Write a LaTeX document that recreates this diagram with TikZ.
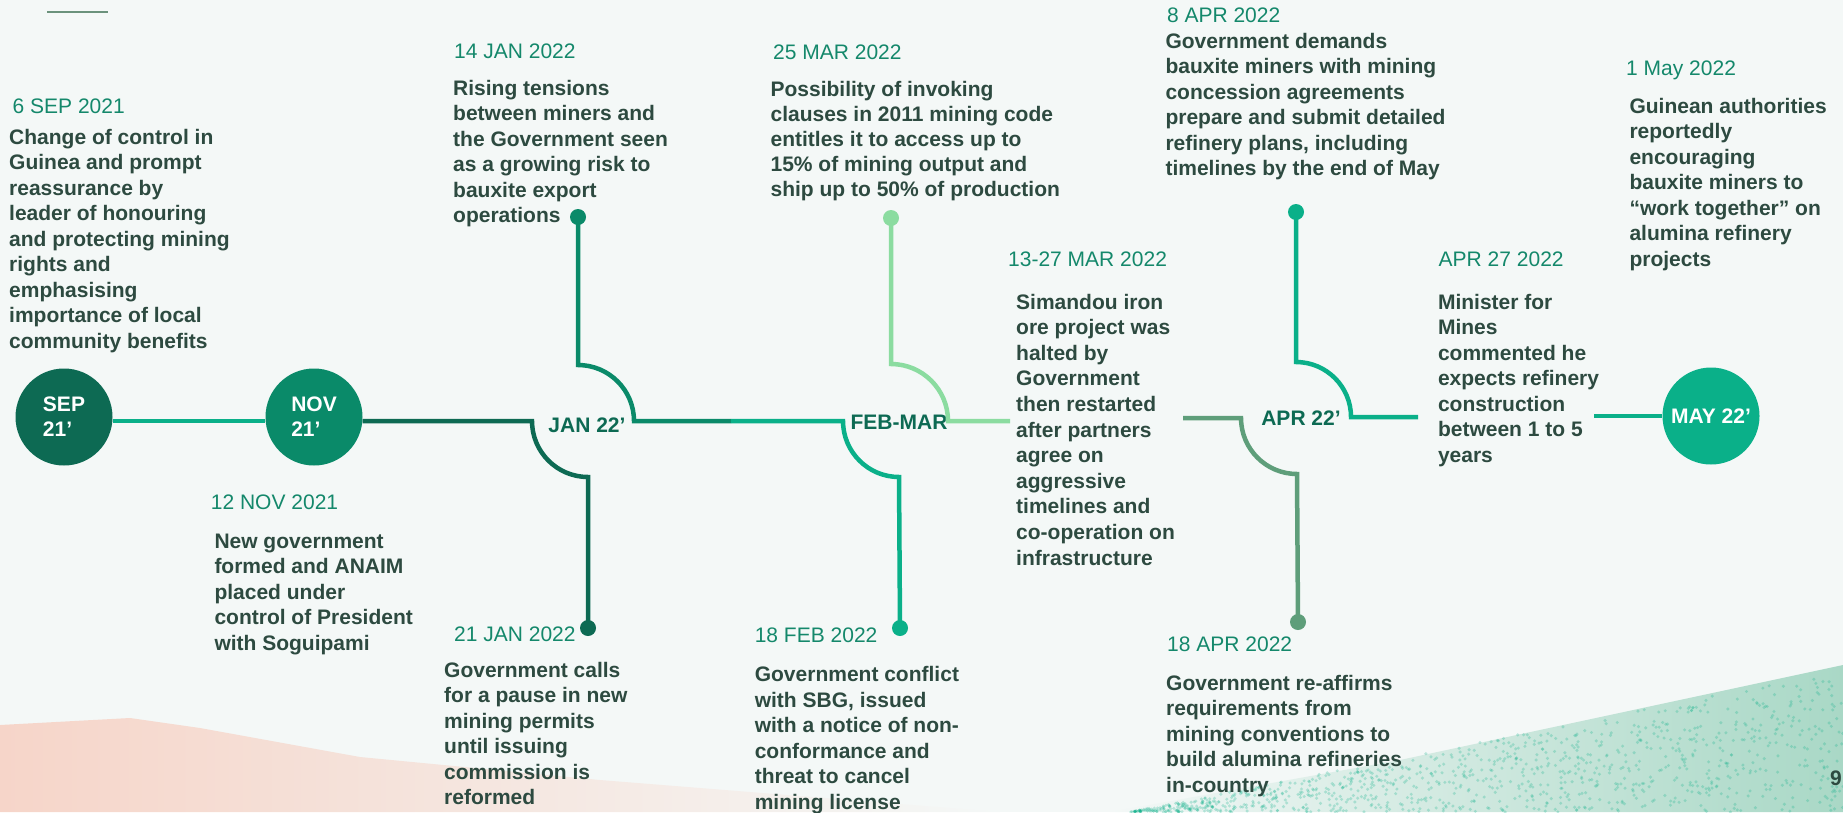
\documentclass[tikz,border=0pt]{standalone}
\usepackage{fontspec}
\setmainfont{Liberation Sans}
\definecolor{bg}{HTML}{F4F8F7}
\definecolor{cdark}{HTML}{0D6A53}
\definecolor{cmid}{HTML}{0A8A69}
\definecolor{cteal}{HTML}{0AB089}
\definecolor{clight}{HTML}{8BDCA0}
\definecolor{cgrey}{HTML}{5E9E7A}
\definecolor{cdate}{HTML}{14886B}
\definecolor{ctext}{HTML}{2D4A40}
\definecolor{cpink}{HTML}{F6D5C9}
\definecolor{cgpatch}{HTML}{A9D8C6}
\begin{document}
\begin{tikzpicture}[x=1pt,y=1pt,
  ln/.style={line width=4.5pt},
  datelbl/.style={font=\fontsize{21}{25.5}\selectfont, text=cdate, anchor=base west, inner sep=0pt},
  body/.style={font=\bfseries\fontsize{21}{25.5}\selectfont, text=ctext, align=left, anchor=base west, inner sep=0pt},
  hub/.style={font=\bfseries\fontsize{21}{25}\selectfont, text=cdark, inner sep=0pt},
  month/.style={circle, minimum size=97pt, inner sep=0pt, text=white, align=left, font=\bfseries\fontsize{21}{25}\selectfont},
  dotn/.style={circle, minimum size=16pt, inner sep=0pt}
]
\useasboundingbox (0,0) rectangle (1843,-812);
\fill[bg] (0,0) rectangle (1843,-812);
% pink blob bottom left
\shade[left color=cpink, right color=bg]
  (0,-725) -- (130,-718) -- (200,-728) -- (360,-757) -- (600,-780) -- (850,-800) -- (1000,-812) -- (0,-812) -- cycle;
% green textured patch bottom right
\shade[left color=bg, right color=cgpatch]
  (1110,-812) -- (1400,-760) -- (1843,-665) -- (1843,-812) -- cycle;
\pgfmathsetseed{42}
\foreach \i in {1,...,1100}{
  \pgfmathsetmacro{\px}{1130+rnd*713}
  \pgfmathsetmacro{\ptop}{812-(\px-1130)*0.2}
  \pgfmathsetmacro{\py}{\ptop+rnd*(812-\ptop)}
  \fill[cteal, opacity=0.25] (\px,-\py) circle (1.7pt);
}
% top-left short rule
\draw[line width=2.5pt, color=cgrey!60!gray] (47,-12) -- (108,-12);

% month circles
\node[month, fill=cdark] (sep) at (64,-417) {SEP\\21’};
\node[month, fill=cmid] (nov) at (314,-417) {NOV\\21’};
\node[month, fill=cteal] (may) at (1711,-416) {MAY 22’};

% hub labels
\node[hub] (jan) at (587,-425) {JAN 22’};
\node[hub] (febmar) at (899,-422) {FEB-MAR};
\node[hub] (apr) at (1301,-418) {APR 22’};

% dots
\node[dotn, fill=cmid] (d14jan) at (578,-217) {};
\node[dotn, fill=cdark] (d21jan) at (588,-628) {};
\node[dotn, fill=clight] (d25mar) at (891,-218) {};
\node[dotn, fill=cteal] (d18feb) at (900,-628) {};
\node[dotn, fill=cteal] (d8apr) at (1296,-212) {};
\node[dotn, fill=cgrey] (d18apr) at (1298,-622) {};

% free ends
\coordinate (seam1) at (731,-421);
\coordinate (gapL) at (1010,-421);
\coordinate (gapR) at (1183,-418);
\coordinate (aprR) at (1418,-417);
\coordinate (mayL) at (1594,-416);

% connectors
\draw[ln, cteal] ([yshift=-4pt]sep.east) -- ([yshift=-4pt]nov.west);
\draw[ln, cdark] ([yshift=-4pt]nov.east) -- (532,-421) arc[start angle=180, end angle=270, radius=56pt] -- (d21jan.center);
\draw[ln, cmid] (d14jan.center) -- (578,-365) arc[start angle=90, end angle=0, radius=56pt] -- (seam1);
\draw[ln, cteal] (seam1) -- (843,-421) arc[start angle=180, end angle=270, radius=56pt] -- (d18feb.center);
\draw[ln, clight] (d25mar.center) -- (891,-364) arc[start angle=90, end angle=0, radius=57pt] -- (gapL);
\draw[ln, cgrey] (gapR) -- (1241,-418) arc[start angle=180, end angle=270, radius=56pt] -- (d18apr.center);
\draw[ln, cteal] (d8apr.center) -- (1296,-362) arc[start angle=90, end angle=0, radius=55pt] -- (aprR);
\draw[ln, cteal] (mayL) -- (may.west);

% dates and texts (body nodes anchored at the baseline of their last line)
\node[datelbl] (t6sep) at (12.5,-113.3) {6 SEP 2021};
\node[body] (b6sep) at (9,-348) {Change of control in\\Guinea and prompt\\reassurance by\\leader of honouring\\and protecting mining\\rights and\\emphasising\\importance of local\\community benefits};

\node[datelbl] (t12nov) at (210.7,-509) {12 NOV 2021};
\node[body] (b12nov) at (214.3,-650.3) {New government\\formed and ANAIM\\placed under\\control of President\\with Soguipami};

\node[datelbl] (t14jan) at (454,-58.3) {14 JAN 2022};
\node[body] (b14jan) at (453,-222.5) {Rising tensions\\between miners and\\the Government seen\\as a growing risk to\\bauxite export\\operations};

\node[datelbl] (t21jan) at (454,-641.7) {21 JAN 2022};
\node[body] (b21jan) at (444,-804.8) {Government calls\\for a pause in new\\mining permits\\until issuing\\commission is\\reformed};

\node[datelbl] (t25mar) at (773,-59.3) {25 MAR 2022};
\node[body, font=\bfseries\fontsize{21}{25}\selectfont] (b25mar) at (770.4,-196.7) {Possibility of invoking\\clauses in 2011 mining code\\entitles it to access up to\\15\% of mining output and\\ship up to 50\% of production};

\node[datelbl] (t18feb) at (754.6,-642.7) {18 FEB 2022};
\node[body] (b18feb) at (754.6,-809.2) {Government conflict\\with SBG, issued\\with a notice of non-\\conformance and\\threat to cancel\\mining license};

\node[datelbl] (t1327mar) at (1008,-266.7) {13-27 MAR 2022};
\node[body, font=\bfseries\fontsize{21}{25.6}\selectfont] (b1327mar) at (1016,-565) {Simandou iron\\ore project was\\halted by\\Government\\then restarted\\after partners\\agree on\\aggressive\\timelines and\\co-operation on\\infrastructure};

\node[datelbl] (t8apr) at (1166.8,-22.3) {8 APR 2022};
\node[body] (b8apr) at (1165.3,-175.8) {Government demands\\bauxite miners with mining\\concession agreements\\prepare and submit detailed\\refinery plans, including\\timelines by the end of May};

\node[datelbl] (t18apr) at (1167,-651.7) {18 APR 2022};
\node[body] (b18apr) at (1166,-792) {Government re-affirms\\requirements from\\mining conventions to\\build alumina refineries\\in-country};

\node[datelbl] (t27apr) at (1438.5,-266.7) {APR 27 2022};
\node[body] (b27apr) at (1437.8,-462.3) {Minister for\\Mines\\commented he\\expects refinery\\construction\\between 1 to 5\\years};

\node[datelbl] (t1may) at (1626,-75) {1 May 2022};
\node[body] (b1may) at (1629.3,-266.3) {Guinean authorities\\reportedly\\encouraging\\bauxite miners to\\“work together” on\\alumina refinery\\projects};

\node[body] (pageno) at (1830,-785) {9};
\end{tikzpicture}
\end{document}
